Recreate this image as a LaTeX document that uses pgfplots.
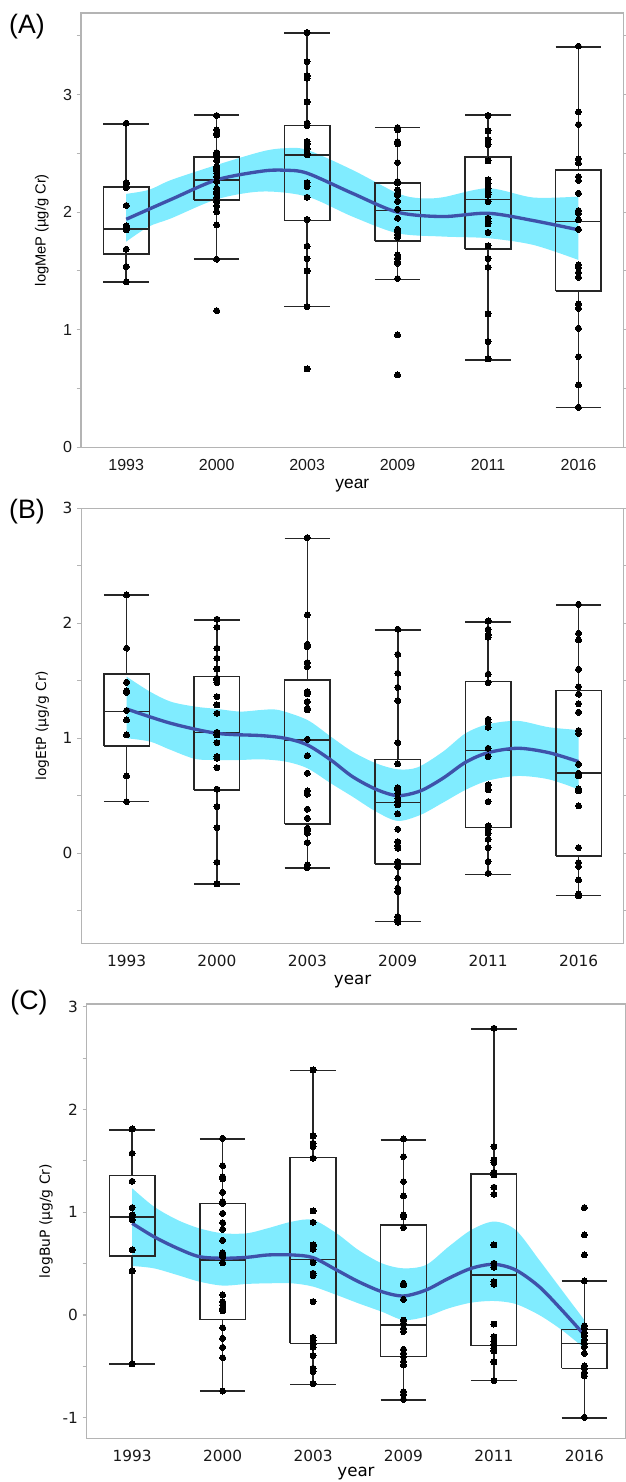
\documentclass[border=0pt]{standalone}
\usepackage{fontspec}
\setmainfont{Liberation Sans}
\newfontfamily\dejavu{DejaVu Sans}
\usepackage{pgfplots}
\pgfplotsset{compat=1.18}
\usepgfplotslibrary{fillbetween}
\definecolor{bandc}{RGB}{128,236,255}
\definecolor{linec}{RGB}{62,82,170}
\definecolor{framec}{RGB}{180,180,180}
\pgfplotsset{
 panel/.style={
  scale only axis, anchor=north west,
  xmin=-0.5, xmax=5.5,
  xtick={0,...,5}, xticklabels={1993,2000,2003,2009,2011,2016},
  axis line style={framec, line width=0.8pt},
  tick align=outside,
  major tick length=3.2pt, minor tick length=3.2pt,
  x tick style={draw=none},
  y tick style={framec, line width=0.8pt},
  xticklabel style={anchor=base, yshift=-14.5pt, text=black!90},
  yticklabel style={anchor=east, text=black!90},
  /pgf/number format/assume math mode=true,
  xlabel style={at={(axis description cs:0.5,-0.094)}, anchor=base},
  ylabel style={at={(axis description cs:-0.072,0.5)}, anchor=center},
  xlabel={year},
 },
 bx/.style={draw=black!85, line width=1.15pt, solid, no marks},
 pts/.style={only marks, mark=*, mark size=2.25pt, mark options={draw=black, fill=black, line width=0pt}},
 sm/.style={smooth, linec, line width=2.5pt, no marks},
 bd/.style={smooth, draw=none, no marks},
}
% #1 left, #2 centre, #3 right, #4 lower whisker, #5 Q1, #6 median, #7 Q3, #8 upper whisker
\newcommand{\bxp}[8]{%
\addplot[bx] coordinates {(#1,#5) (#3,#5) (#3,#7) (#1,#7) (#1,#5)};
\addplot[bx] coordinates {(#1,#6) (#3,#6)};
\addplot[bx] coordinates {(#2,#7) (#2,#8)};
\addplot[bx] coordinates {(#1,#8) (#3,#8)};
\addplot[bx] coordinates {(#2,#5) (#2,#4)};
\addplot[bx] coordinates {(#1,#4) (#3,#4)};
}
\begin{document}
\begin{tikzpicture}
\node[font=\fontsize{20}{24}\selectfont] at (20.25pt,-20.25pt) {(A)};
\node[font=\fontsize{20}{24}\selectfont] at (20.25pt,-384pt) {(B)};
\node[font=\fontsize{20}{24}\selectfont] at (21.75pt,-752.25pt) {(C)};

%%%%%%%%%%%%%%%% Panel A
\begin{axis}[panel, at={(60.75pt,-9.75pt)}, width=407pt, height=325.7pt,
  ymin=0, ymax=3.693, ytick={0,1,2,3}, minor ytick={0.5,1.5,2.5,3.5},
  tick label style={font=\fontsize{12}{14}\selectfont},
  ylabel={logMeP (µg/g Cr)}, ylabel style={font=\fontsize{11}{13}\selectfont},
  xlabel style={font=\fontsize{13}{15}\selectfont}]
\addplot[bd, name path=U] coordinates {(0,2.155) (0.25,2.189) (0.5,2.274) (1,2.401) (1.5,2.515) (1.75,2.543) (2,2.529) (2.5,2.359) (3,2.160) (3.25,2.118) (3.5,2.126) (4,2.203) (4.5,2.124) (5,2.132)};
\addplot[bd, name path=L] coordinates {(0,1.749) (0.25,1.877) (0.5,1.948) (1,2.109) (1.5,2.175) (2,2.132) (2.5,1.962) (3,1.820) (3.5,1.792) (4,1.778) (4.5,1.721) (5,1.593)};
\addplot[bandc, draw=none] fill between[of=U and L];
\bxp{-0.252}{0}{0.252}{1.406}{1.644}{1.857}{2.214}{2.750}
\bxp{0.748}{1}{1.252}{1.599}{2.101}{2.274}{2.467}{2.824}
\bxp{1.748}{2}{2.252}{1.196}{1.928}{2.487}{2.736}{3.521}
\bxp{2.748}{3}{3.252}{1.426}{1.755}{2.013}{2.246}{2.719}
\bxp{3.748}{4}{4.252}{0.740}{1.687}{2.109}{2.467}{2.824}
\bxp{4.748}{5}{5.252}{0.337}{1.330}{1.919}{2.359}{3.405}
\addplot[sm] coordinates {(0,1.939) (0.5,2.109) (1,2.274) (1.5,2.348) (1.75,2.356) (2,2.331) (2.5,2.160) (3,1.999) (3.5,1.962) (4,1.990) (4.5,1.928) (5,1.849)};
\addplot[pts] table[row sep=\\] {x y\\
0 2.756\\ 0 2.251\\ 0 2.237\\ 0 2.209\\ 0 2.056\\ 0 1.883\\ 0 1.868\\ 0 1.849\\ 0 1.684\\ 0 1.537\\ 0 1.406\\
1 2.821\\ 1 2.699\\ 1 2.671\\ 1 2.657\\ 1 2.506\\ 1 2.492\\ 1 2.472\\ 1 2.438\\ 1 2.387\\ 1 2.373\\ 1 2.353\\ 1 2.331\\ 1 2.302\\ 1 2.260\\ 1 2.203\\ 1 2.175\\ 1 2.155\\ 1 2.126\\ 1 2.090\\ 1 2.053\\ 1 2.002\\ 1 1.891\\ 1 1.599\\ 1 1.162\\
2 3.527\\ 2 3.280\\ 2 3.158\\ 2 3.139\\ 2 2.937\\ 2 2.756\\ 2 2.736\\ 2 2.600\\ 2 2.580\\ 2 2.538\\ 2 2.501\\ 2 2.487\\ 2 2.251\\ 2 2.217\\ 2 2.126\\ 2 1.937\\ 2 1.710\\ 2 1.605\\ 2 1.500\\ 2 1.196\\ 2 0.666\\
3 2.719\\ 3 2.699\\ 3 2.600\\ 3 2.580\\ 3 2.421\\ 3 2.260\\ 3 2.246\\ 3 2.189\\ 3 2.160\\ 3 2.141\\ 3 2.092\\ 3 2.024\\ 3 1.948\\ 3 1.854\\ 3 1.834\\ 3 1.812\\ 3 1.786\\ 3 1.636\\ 3 1.608\\ 3 1.579\\ 3 1.565\\ 3 1.435\\ 3 0.955\\ 3 0.615\\
4 2.821\\ 4 2.691\\ 4 2.614\\ 4 2.572\\ 4 2.435\\ 4 2.274\\ 4 2.246\\ 4 2.203\\ 4 2.169\\ 4 2.146\\ 4 2.090\\ 4 1.948\\ 4 1.919\\ 4 1.900\\ 4 1.826\\ 4 1.713\\ 4 1.605\\ 4 1.531\\ 4 1.134\\ 4 0.899\\ 4 0.751\\
5 3.411\\ 5 2.852\\ 5 2.745\\ 5 2.453\\ 5 2.416\\ 5 2.302\\ 5 2.268\\ 5 2.160\\ 5 2.013\\ 5 1.990\\ 5 1.934\\ 5 1.854\\ 5 1.551\\ 5 1.528\\ 5 1.486\\ 5 1.446\\ 5 1.219\\ 5 1.182\\ 5 1.012\\ 5 0.771\\ 5 0.530\\ 5 0.340\\
};
\end{axis}

%%%%%%%%%%%%%%%% Panel B
\begin{axis}[panel, at={(61pt,-381.2pt)}, width=406.8pt, height=326.25pt,
  ymin=-0.783, ymax=3, ytick={0,1,2,3}, minor ytick={-0.5,0.5,1.5,2.5},
  tick label style={font=\dejavu\fontsize{11.5}{13}\selectfont},
  ylabel={logEtP (µg/g Cr)}, ylabel style={font=\dejavu\fontsize{10.4}{12}\selectfont},
  xlabel style={font=\dejavu\fontsize{12.5}{15}\selectfont}]
\addplot[bd, name path=U] coordinates {(0,1.536) (0.26,1.405) (0.49,1.318) (0.76,1.275) (1,1.255) (1.26,1.232) (1.49,1.246) (1.68,1.246) (2,1.159) (2.26,1.014) (2.5,0.883) (2.76,0.782) (3,0.730) (3.22,0.747) (3.5,0.883) (3.75,1.043) (4,1.122) (4.33,1.151) (4.67,1.096) (5,1.072)};
\addplot[bd, name path=L] coordinates {(0,1.0) (0.26,0.971) (0.49,0.898) (0.76,0.820) (1,0.811) (1.26,0.811) (1.49,0.817) (1.76,0.797) (2,0.739) (2.26,0.608) (2.5,0.492) (2.76,0.362) (3,0.281) (3.25,0.333) (3.5,0.440) (3.75,0.551) (4,0.632) (4.33,0.672) (4.67,0.643) (5,0.556)};
\addplot[bandc, draw=none] fill between[of=U and L];
\bxp{-0.252}{0}{0.252}{0.449}{0.933}{1.232}{1.557}{2.246}
\bxp{0.748}{1}{1.252}{-0.267}{0.551}{1.052}{1.536}{2.029}
\bxp{1.748}{2}{2.252}{-0.130}{0.255}{0.986}{1.507}{2.739}
\bxp{2.748}{3}{3.252}{-0.594}{-0.093}{0.441}{0.817}{1.942}
\bxp{3.748}{4}{4.252}{-0.183}{0.223}{0.893}{1.493}{2.009}
\bxp{4.748}{5}{5.252}{-0.368}{-0.023}{0.696}{1.414}{2.159}
\addplot[sm] coordinates {(0,1.255) (0.49,1.130) (1,1.043) (1.49,1.023) (1.76,0.999) (2,0.942) (2.26,0.811) (2.5,0.666) (2.76,0.556) (3,0.501) (3.25,0.542) (3.5,0.652) (3.75,0.791) (4,0.875) (4.33,0.913) (4.67,0.875) (5,0.797)};
\addplot[pts] table[row sep=\\] {x y\\
0 2.246\\ 0 1.783\\ 0 1.487\\ 0 1.412\\ 0 1.400\\ 0 1.241\\ 0 1.159\\ 0 1.029\\ 0 0.672\\ 0 0.449\\
1 2.035\\ 1 1.965\\ 1 1.783\\ 1 1.696\\ 1 1.603\\ 1 1.522\\ 1 1.507\\ 1 1.484\\ 1 1.362\\ 1 1.290\\ 1 1.217\\ 1 1.052\\ 1 1.029\\ 1 0.962\\ 1 0.841\\ 1 0.826\\ 1 0.745\\ 1 0.557\\ 1 0.406\\ 1 0.223\\ 1 -0.078\\ 1 -0.267\\
2 2.745\\ 2 2.072\\ 2 1.817\\ 2 1.797\\ 2 1.658\\ 2 1.623\\ 2 1.406\\ 2 1.386\\ 2 1.319\\ 2 1.261\\ 2 1.246\\ 2 0.991\\ 2 0.849\\ 2 0.696\\ 2 0.542\\ 2 0.513\\ 2 0.383\\ 2 0.304\\ 2 0.217\\ 2 0.197\\ 2 0.174\\ 2 0.093\\ 2 -0.101\\ 2 -0.125\\
3 1.948\\ 3 1.730\\ 3 1.565\\ 3 1.443\\ 3 1.328\\ 3 0.962\\ 3 0.777\\ 3 0.571\\ 3 0.551\\ 3 0.522\\ 3 0.478\\ 3 0.449\\ 3 0.420\\ 3 0.342\\ 3 0.209\\ 3 0.101\\ 3 0.064\\ 3 0.043\\ 3 -0.072\\ 3 -0.116\\ 3 -0.217\\ 3 -0.304\\ 3 -0.333\\ 3 -0.551\\ 3 -0.580\\ 3 -0.600\\
4 2.020\\ 4 1.948\\ 4 1.899\\ 4 1.878\\ 4 1.557\\ 4 1.484\\ 4 1.165\\ 4 1.139\\ 4 1.096\\ 4 0.913\\ 4 0.841\\ 4 0.594\\ 4 0.551\\ 4 0.449\\ 4 0.238\\ 4 0.209\\ 4 0.174\\ 4 0.122\\ 4 0.049\\ 4 -0.072\\ 4 -0.174\\
5 2.165\\ 5 1.913\\ 5 1.855\\ 5 1.600\\ 5 1.449\\ 5 1.383\\ 5 1.301\\ 5 1.226\\ 5 1.067\\ 5 1.043\\ 5 0.774\\ 5 0.696\\ 5 0.672\\ 5 0.559\\ 5 0.542\\ 5 0.412\\ 5 0.049\\ 5 -0.081\\ 5 -0.116\\ 5 -0.232\\ 5 -0.354\\ 5 -0.371\\
};
\end{axis}

%%%%%%%%%%%%%%%% Panel C
\begin{axis}[panel, at={(65.2pt,-753pt)}, width=403.6pt, height=325.7pt, xmax=5.45,
  ymin=-1.2, ymax=3.026, ytick={-1,0,1,2,3}, minor ytick={-0.5,0.5,1.5,2.5},
  tick label style={font=\dejavu\fontsize{11.5}{13}\selectfont},
  ylabel={logBuP (µg/g Cr)}, ylabel style={font=\dejavu\fontsize{10.4}{12}\selectfont, at={(axis description cs:-0.076,0.5)}},
  xlabel style={font=\dejavu\fontsize{12.5}{15}\selectfont, at={(axis description cs:0.5,-0.087)}}]
\addplot[bd, name path=U] coordinates {(0,1.233) (0.24,1.055) (0.5,0.925) (0.74,0.844) (1,0.795) (1.27,0.795) (1.5,0.844) (1.77,0.909) (2,0.925) (2.26,0.795) (2.5,0.633) (2.76,0.503) (3,0.454) (3.25,0.487) (3.5,0.665) (3.75,0.828) (4,0.909) (4.24,0.828) (4.5,0.536) (4.75,0.243) (5,-0.049)};
\addplot[bd, name path=L] coordinates {(0,0.477) (0.24,0.454) (0.5,0.389) (0.74,0.325) (1,0.286) (1.27,0.302) (1.5,0.308) (1.77,0.308) (2,0.276) (2.26,0.195) (2.5,0.114) (2.76,0.032) (3,-0.049) (3.25,-0.016) (3.5,0.065) (3.75,0.120) (4,0.136) (4.24,0.107) (4.5,0.0) (4.75,-0.146) (5,-0.324)};
\addplot[bandc, draw=none] fill between[of=U and L];
\bxp{-0.252}{0}{0.252}{-0.477}{0.574}{0.951}{1.359}{1.800}
\bxp{0.748}{1}{1.252}{-0.740}{-0.045}{0.535}{1.084}{1.713}
\bxp{1.748}{2}{2.252}{-0.675}{-0.276}{0.542}{1.534}{2.378}
\bxp{2.748}{3}{3.252}{-0.827}{-0.406}{-0.097}{0.876}{1.703}
\bxp{3.748}{4}{4.252}{-0.639}{-0.298}{0.389}{1.372}{2.783}
\bxp{4.748}{5}{5.252}{-1.0}{-0.519}{-0.276}{-0.143}{0.331}
\addplot[sm] coordinates {(0,0.892) (0.24,0.762) (0.5,0.649) (0.74,0.568) (1,0.552) (1.27,0.561) (1.5,0.584) (1.77,0.584) (2,0.558) (2.26,0.438) (2.5,0.325) (2.76,0.227) (3,0.185) (3.25,0.243) (3.5,0.357) (3.75,0.454) (4,0.493) (4.24,0.438) (4.5,0.276) (4.75,0.049) (5,-0.195)};
\addplot[pts] table[row sep=\\] {x y\\
0 1.810\\ 0 1.573\\ 0 1.301\\ 0 1.045\\ 0 0.973\\ 0 0.951\\ 0 0.925\\ 0 0.633\\ 0 0.428\\ 0 -0.477\\
1 1.719\\ 1 1.453\\ 1 1.346\\ 1 1.324\\ 1 1.194\\ 1 1.103\\ 1 1.087\\ 1 0.989\\ 1 0.899\\ 1 0.834\\ 1 0.727\\ 1 0.607\\ 1 0.590\\ 1 0.568\\ 1 0.509\\ 1 0.195\\ 1 0.130\\ 1 0.097\\ 1 0.065\\ 1 0.039\\ 1 -0.123\\ 1 -0.227\\ 1 -0.315\\ 1 -0.415\\ 1 -0.740\\
2 2.384\\ 2 1.742\\ 2 1.671\\ 2 1.638\\ 2 1.525\\ 2 1.012\\ 2 0.902\\ 2 0.681\\ 2 0.665\\ 2 0.639\\ 2 0.509\\ 2 0.406\\ 2 0.383\\ 2 0.130\\ 2 -0.217\\ 2 -0.250\\ 2 -0.285\\ 2 -0.315\\ 2 -0.396\\ 2 -0.519\\ 2 -0.552\\ 2 -0.668\\
3 1.713\\ 3 1.541\\ 3 1.298\\ 3 1.158\\ 3 0.973\\ 3 0.957\\ 3 0.850\\ 3 0.308\\ 3 0.292\\ 3 0.152\\ 3 -0.049\\ 3 -0.081\\ 3 -0.130\\ 3 -0.162\\ 3 -0.334\\ 3 -0.373\\ 3 -0.406\\ 3 -0.454\\ 3 -0.487\\ 3 -0.746\\ 3 -0.772\\ 3 -0.821\\
4 2.790\\ 4 1.638\\ 4 1.508\\ 4 1.483\\ 4 1.388\\ 4 1.363\\ 4 1.243\\ 4 1.174\\ 4 0.681\\ 4 0.503\\ 4 0.464\\ 4 0.324\\ 4 0.298\\ 4 -0.088\\ 4 -0.211\\ 4 -0.260\\ 4 -0.292\\ 4 -0.324\\ 4 -0.350\\ 4 -0.457\\ 4 -0.639\\
5 1.045\\ 5 0.779\\ 5 0.584\\ 5 0.331\\ 5 -0.104\\ 5 -0.130\\ 5 -0.172\\ 5 -0.204\\ 5 -0.243\\ 5 -0.276\\ 5 -0.308\\ 5 -0.373\\ 5 -0.496\\ 5 -0.519\\ 5 -0.561\\ 5 -0.594\\ 5 -0.996\\
};
\end{axis}
\pgfresetboundingbox
\path[use as bounding box] (0,0) rectangle (468.75pt,-1111.5pt);
\end{tikzpicture}
\end{document}
